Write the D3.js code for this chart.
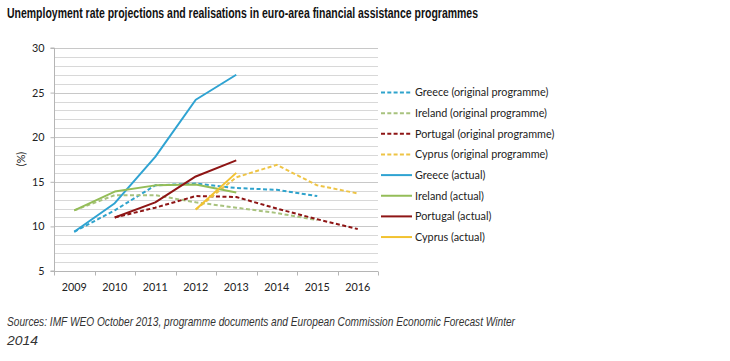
<!DOCTYPE html>
<html>
<head>
<meta charset="utf-8">
<script src="https://cdn.jsdelivr.net/npm/d3@7/dist/d3.min.js"></script>
<style>
  html, body { margin: 0; padding: 0; background: #fff; }
  svg { display: block; }
</style>
</head>
<body>
<svg id="chart" width="730" height="361"></svg>
<script>
const years = ["2009", "2010", "2011", "2012", "2013", "2014", "2015", "2016"];
const yTicks = [5, 10, 15, 20, 25, 30];

const greeceProg   = [9.4, 11.8, 14.6, 14.8, 14.3, 14.1, 13.4, null];
const irelandProg  = [11.8, 13.5, 13.5, 12.7, 12.1, 11.5, 10.7, null];
const portugalProg = [null, 11.0, 12.1, 13.4, 13.3, 12.0, 10.8, 9.7];
const cyprusProg   = [null, null, null, 11.9, 15.5, 16.9, 14.6, 13.7];
const greeceAct    = [9.4, 12.6, 17.8, 24.2, 27.0, null, null, null];
const irelandAct   = [11.8, 13.9, 14.6, 14.7, 13.8, null, null, null];
const portugalAct  = [null, 11.0, 12.7, 15.6, 17.4, null, null, null];
const cyprusAct    = [null, null, null, 11.9, 16.0, null, null, null];

const seriesNames = [
  "Greece (original programme)", "Ireland (original programme)",
  "Portugal (original programme)", "Cyprus (original programme)",
  "Greece (actual)", "Ireland (actual)", "Portugal (actual)", "Cyprus (actual)"
];
const seriesValues = [greeceProg, irelandProg, portugalProg, cyprusProg,
                      greeceAct, irelandAct, portugalAct, cyprusAct];
const seriesColors = ["#2fa3cc", "#a8c27e", "#8e1515", "#eec445",
                      "#2fa3d2", "#94bd58", "#8e1515", "#f2c230"];
const seriesDashed = [true, true, true, true, false, false, false, false];

const titleText = "Unemployment rate projections and realisations in euro-area financial assistance programmes";
const sourceLines = ["Sources: IMF WEO October 2013, programme documents and European Commission Economic Forecast Winter", "2014"];

const svg = d3.select("#chart");
const plotLeft = 54, plotRight = 378, plotTop = 48, plotBottom = 271;

const x = d3.scaleBand().domain(years).range([plotLeft, plotRight]);
const y = d3.scaleLinear().domain([5, 30]).range([plotBottom, plotTop]);

// Title
svg.append("text")
  .attr("x", 7).attr("y", 18)
  .attr("font-family", "Liberation Sans Narrow, Liberation Sans, Arial, sans-serif")
  .attr("font-weight", "bold")
  .attr("font-size", 15)
  .attr("fill", "#111")
  .attr("textLength", 471).attr("lengthAdjust", "spacingAndGlyphs")
  .text(titleText);

// Gridlines every 1 unit
const gridVals = d3.range(6, 31, 1);
svg.append("g")
  .selectAll("line").data(gridVals).join("line")
  .attr("x1", plotLeft).attr("x2", plotRight)
  .attr("y1", d => Math.round(y(d)) + 0.5).attr("y2", d => Math.round(y(d)) + 0.5)
  .attr("stroke", d => d % 5 === 0 ? "#c8c8c8" : "#d8d8d8")
  .attr("stroke-width", 1);

const tickFont = "Lato, Open Sans, sans-serif";

// Y axis
const yAxis = svg.append("g")
  .attr("transform", `translate(${plotLeft + 0.5},0)`)
  .call(d3.axisLeft(y).tickValues(yTicks).tickSize(4).tickPadding(6).tickFormat(d3.format("d")));
yAxis.select(".domain").attr("stroke", "#b5b5b5").attr("d", `M-4,${y(5)}H0V${y(30)}H-4`);
yAxis.selectAll(".tick line").attr("stroke", "#b5b5b5");
yAxis.selectAll(".tick text").attr("font-family", tickFont).attr("font-size", 10.8).attr("fill", "#222");

// X axis
const xAxis = svg.append("g")
  .attr("transform", `translate(0,${plotBottom + 0.5})`)
  .call(d3.axisBottom(x).tickSize(0).tickPadding(12));
xAxis.select(".domain").attr("stroke", "#b5b5b5").attr("d", `M${plotLeft},0H${plotRight}`);
xAxis.selectAll(".tick text").attr("font-family", tickFont).attr("font-size", 10.8).attr("fill", "#222");
const boundaries = years.map(d => x(d)).concat([x(years[years.length - 1]) + x.bandwidth()]);
xAxis.append("g").selectAll("line").data(boundaries).join("line")
  .attr("x1", d => Math.round(d) + 0.5).attr("x2", d => Math.round(d) + 0.5)
  .attr("y1", 0).attr("y2", 4)
  .attr("stroke", "#b5b5b5");

// Y label
svg.append("text")
  .attr("transform", `translate(25,159) rotate(-90)`)
  .attr("text-anchor", "middle")
  .attr("font-family", tickFont).attr("font-size", 10.8).attr("fill", "#222")
  .text("(%)");

// Lines
const line = d3.line()
  .defined(d => d.v !== null)
  .x(d => x(d.year) + x.bandwidth() / 2)
  .y(d => y(d.v));

const plot = svg.append("g");
seriesValues.forEach((vals, i) => {
  const pts = years.map((yr, j) => ({ year: yr, v: vals[j] }));
  plot.append("path")
    .datum(pts)
    .attr("d", line)
    .attr("fill", "none")
    .attr("stroke", seriesColors[i])
    .attr("stroke-width", 2)
    .attr("stroke-linejoin", "round")
    .attr("stroke-dasharray", seriesDashed[i] ? "4,2.5" : null);
});

// Legend
const legend = svg.append("g");
seriesNames.forEach((name, i) => {
  const ly = 92.5 + i * 20.65;
  legend.append("line")
    .attr("x1", 381).attr("x2", 412).attr("y1", ly).attr("y2", ly)
    .attr("stroke", seriesColors[i]).attr("stroke-width", 2)
    .attr("stroke-dasharray", seriesDashed[i] ? "4,2.3" : null);
  legend.append("text")
    .attr("x", 415).attr("y", ly + 3.8)
    .attr("font-family", tickFont).attr("font-size", 10.8).attr("fill", "#222")
    .text(name);
});

// Sources
svg.append("text")
  .attr("x", 7).attr("y", 326)
  .attr("font-family", "Liberation Sans, Arial, sans-serif")
  .attr("font-style", "italic").attr("font-size", 13).attr("fill", "#333")
  .attr("textLength", 508).attr("lengthAdjust", "spacingAndGlyphs")
  .text(sourceLines[0]);
svg.append("text")
  .attr("x", 7).attr("y", 345)
  .attr("font-family", "Liberation Sans, Arial, sans-serif")
  .attr("font-style", "italic").attr("font-size", 13).attr("fill", "#333")
  .attr("textLength", 31).attr("lengthAdjust", "spacingAndGlyphs")
  .text(sourceLines[1]);
</script>
</body>
</html>
